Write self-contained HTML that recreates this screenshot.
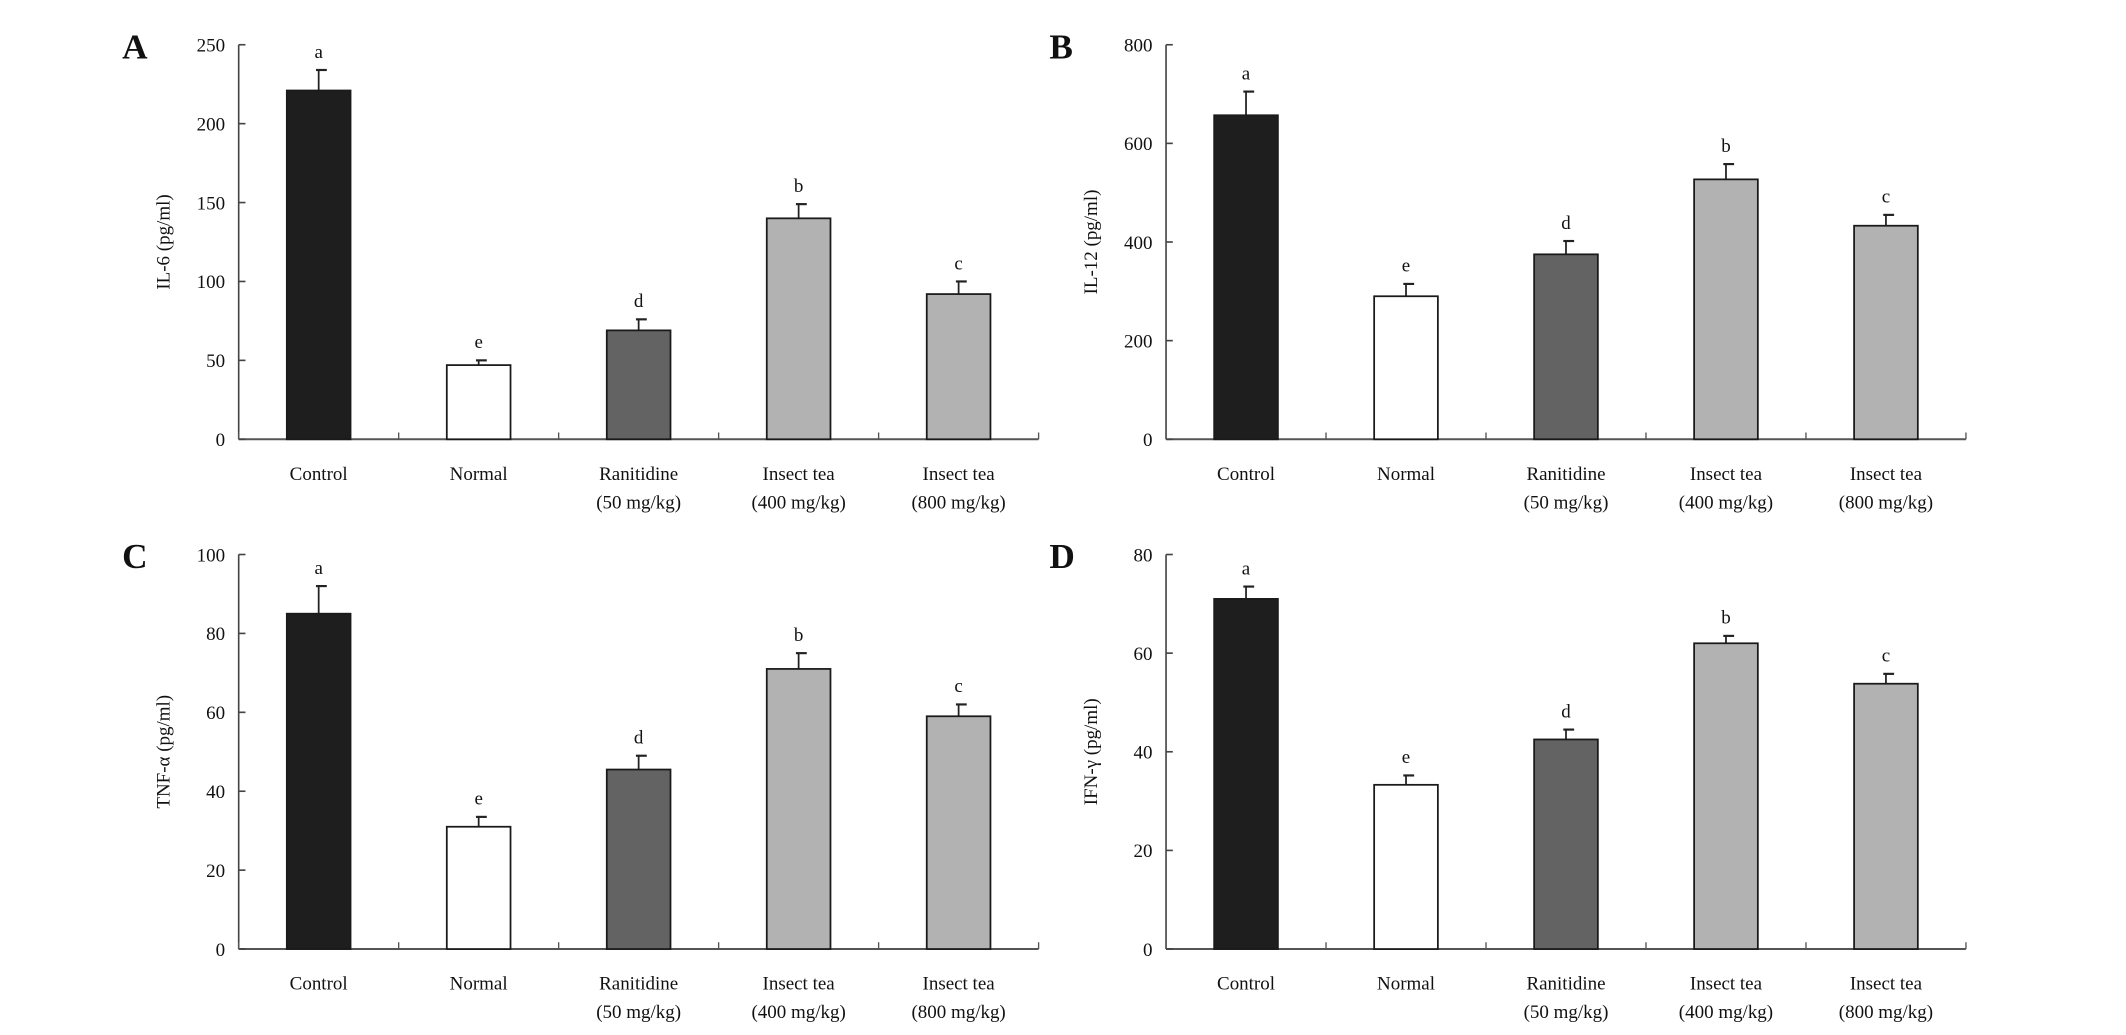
<!DOCTYPE html>
<html><head><meta charset="utf-8"><style>
html,body{margin:0;padding:0;background:#fff;}
svg{display:block;}
text{font-family:"Liberation Serif",serif;fill:#111;}
</style></head><body>
<svg id="chart" width="2126" height="1035" viewBox="0 0 1568 763.4" xmlns="http://www.w3.org/2000/svg"></svg>
<script>
const categories = ["Control","Normal","Ranitidine|(50 mg/kg)","Insect tea|(400 mg/kg)","Insect tea|(800 mg/kg)"];
const fills = ["#1e1e1e","#ffffff","#636363","#b2b2b2","#b2b2b2"];
const letters = ["a","e","d","b","c"];
const il6Values = [221,47,69,140,92];
const il6Errors = [13,3,7,9,8];
const il12Values = [657,290,375,527,433];
const il12Errors = [48,25,27,31,22];
const tnfValues = [85,31,45.5,71,59];
const tnfErrors = [7,2.5,3.5,4,3];
const ifnValues = [71,33.3,42.5,62,53.8];
const ifnErrors = [2.5,1.9,2,1.5,2];
const il6Ticks = [0,50,100,150,200,250];
const il12Ticks = [0,200,400,600,800];
const tnfTicks = [0,20,40,60,80,100];
const ifnTicks = [0,20,40,60,80];

const NS="http://www.w3.org/2000/svg";
const svg=document.getElementById('chart');
function mk(tag,attrs,parent){const e=document.createElementNS(NS,tag);for(const k in attrs)e.setAttribute(k,attrs[k]);(parent||svg).appendChild(e);return e;}

function panel(id,letter,ax,top,bottom,ticks,values,errors,title){
  const g=mk('g',{});
  
  
  const max=ticks[ticks.length-1];
  const y=v=>bottom-(v/max)*(bottom-top);
  const step=118, right=ax+step*5;
  const x=i=>ax+step*(i+0.5);
  const L=mk('text',{x:ax-86,y:top+10,'font-size':26,'font-weight':'bold'},g);L.textContent=letter;
  
  
  const yl=mk('line',{x1:ax,y1:top,x2:ax,y2:bottom,stroke:'#444','stroke-width':1.2},g);
  
  
  const xl=mk('line',{x1:ax,y1:bottom,x2:right,y2:bottom,stroke:'#555','stroke-width':1.5},g);
  
  
  for(let i=0;i<=5;i++) mk('line',{x1:ax+step*i,y1:bottom,x2:ax+step*i,y2:bottom-5,stroke:'#555','stroke-width':1},g);
  ticks.forEach(t=>{
    mk('line',{x1:ax,y1:y(t),x2:ax+5,y2:y(t),stroke:'#444','stroke-width':1.2},g);
    const tx=mk('text',{x:ax-10,y:y(t)+5,'font-size':14,'text-anchor':'end'},g);tx.textContent=t;
    
    
  });
  const cy=(top+bottom)/2;
  const tt=mk('text',{x:0,y:0,'font-size':14,'text-anchor':'middle',transform:`translate(${ax-51},${cy}) rotate(-90)`},g);tt.textContent=title;
  
  
  values.forEach((v,i)=>{
    const bw=47, cx=x(i);
    const et=y(v+errors[i]);
    mk('line',{x1:cx,y1:y(v),x2:cx,y2:et,stroke:'#222','stroke-width':1.3},g);
    mk('line',{x1:cx-2,y1:et,x2:cx+6,y2:et,stroke:'#222','stroke-width':1.6},g);
    const r=mk('rect',{x:cx-bw/2,y:y(v),width:bw,height:bottom-y(v),fill:fills[i],stroke:'#1a1a1a','stroke-width':1.3},g);
    
    
    const lt=mk('text',{x:cx,y:et-9,'font-size':14,'text-anchor':'middle'},g);lt.textContent=letters[i];
    
    
    const parts=categories[i].split('|');
    parts.forEach((p,k)=>{
      const c=mk('text',{x:cx,y:bottom+30+k*21,'font-size':14,'text-anchor':'middle'},g);c.textContent=p;
      
      
    });
  });
}
panel('a','A',176,33,324,il6Ticks,il6Values,il6Errors,'IL-6 (pg/ml)');
panel('b','B',860,33,324,il12Ticks,il12Values,il12Errors,'IL-12 (pg/ml)');
panel('c','C',176,409,700,tnfTicks,tnfValues,tnfErrors,'TNF-α (pg/ml)');
panel('d','D',860,409,700,ifnTicks,ifnValues,ifnErrors,'IFN-γ (pg/ml)');
</script>
</body></html>
